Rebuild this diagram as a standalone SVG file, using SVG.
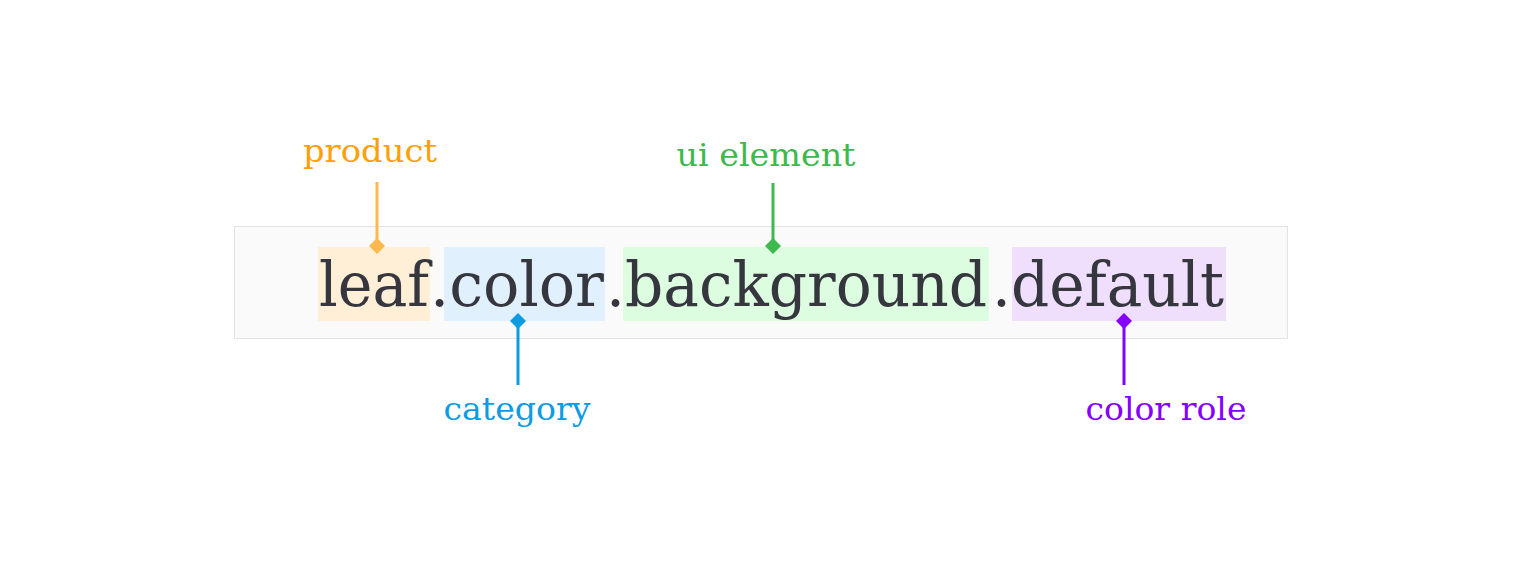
<svg xmlns="http://www.w3.org/2000/svg" width="1523" height="564" viewBox="0 0 1523 564">
<style>
.main{font-family:"DejaVu Serif","Liberation Serif",serif;font-size:62px;fill:#36363f}
.lbl{font-family:"DejaVu Serif","Liberation Serif",serif;font-size:31px}
.ln{stroke-width:3;fill:none}
</style>
<rect width="1523" height="564" fill="#ffffff"/>
<g id="token">
<rect x="234.5" y="226.5" width="1053" height="112" fill="#fafafa" stroke="#e4e4e4" stroke-width="1"/>
<rect x="318" y="247" width="112" height="74" fill="#ffefd6"/>
<rect x="444" y="247" width="161" height="74" fill="#e0f0fd"/>
<rect x="623" y="247" width="366" height="74" fill="#dcfddf"/>
<rect x="1012" y="247" width="214" height="74" fill="#efdffd"/>
<text class="main" y="306"><tspan x="319" textLength="110" lengthAdjust="spacingAndGlyphs">leaf</tspan><tspan x="430" textLength="174" lengthAdjust="spacingAndGlyphs">.color</tspan><tspan x="606" textLength="381" lengthAdjust="spacingAndGlyphs">.background</tspan><tspan x="992" textLength="232" lengthAdjust="spacingAndGlyphs">.default</tspan></text>
</g>
<g id="connectors">
<line class="ln" x1="377" y1="182" x2="377" y2="246" stroke="#ffb84d"/>
<path d="M377 238 L385 246 L377 254 L369 246 Z" fill="#ffb84d"/>
<line class="ln" x1="773" y1="183" x2="773" y2="246" stroke="#3db94d"/>
<path d="M773 238 L781 246 L773 254 L765 246 Z" fill="#3db94d"/>
<line class="ln" x1="518" y1="321" x2="518" y2="385" stroke="#0d9ce2"/>
<path d="M518 313 L526 321 L518 329 L510 321 Z" fill="#0d9ce2"/>
<line class="ln" x1="1124" y1="321" x2="1124" y2="385" stroke="#8500ff"/>
<path d="M1124 313 L1132 321 L1124 329 L1116 321 Z" fill="#8500ff"/>
</g>
<g id="label-product"><text class="lbl" x="370" y="162" text-anchor="middle" fill="#ff9f0a" textLength="134" lengthAdjust="spacingAndGlyphs">product</text></g>
<g id="label-ui-element"><text class="lbl" x="766" y="166" text-anchor="middle" fill="#3db94d" textLength="179" lengthAdjust="spacingAndGlyphs">ui element</text></g>
<g id="label-category"><text class="lbl" x="517" y="420" text-anchor="middle" fill="#0d9ce2" textLength="147" lengthAdjust="spacingAndGlyphs">category</text></g>
<g id="label-color-role"><text class="lbl" x="1166" y="420" text-anchor="middle" fill="#8500ff" textLength="161" lengthAdjust="spacingAndGlyphs">color role</text></g>
</svg>
